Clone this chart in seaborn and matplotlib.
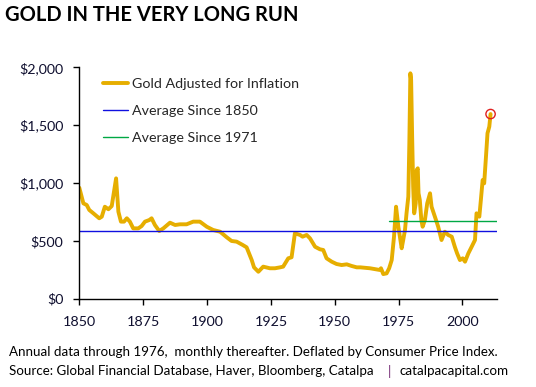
import matplotlib
matplotlib.use("Agg")
import matplotlib.pyplot as plt
import seaborn as sns
import pandas as pd

# ---- data ----
years = [1850.0, 1851.6, 1852.9, 1853.9, 1855.5, 1857.8, 1858.8, 1860.0, 1861.4, 1862.7,
         1864.4, 1865.3, 1866.3, 1867.5, 1868.6, 1869.8, 1871.1, 1873.1, 1874.4, 1875.7,
         1877.4, 1878.3, 1879.6, 1881.3, 1882.9, 1885.5, 1887.5, 1889.4, 1892.0, 1894.6,
         1897.2, 1899.9, 1902.4, 1905.1, 1907.7, 1909.6, 1911.6, 1914.0, 1915.5, 1917.5,
         1918.4, 1920.1, 1922.0, 1924.6, 1926.6, 1928.6, 1929.8, 1931.8, 1933.1, 1934.4,
         1936.4, 1937.4, 1939.0, 1940.3, 1942.3, 1944.2, 1945.5, 1946.8, 1948.8, 1950.7,
         1952.7, 1954.7, 1956.6, 1958.6, 1960.0, 1963.8, 1967.7, 1968.1, 1969.0, 1970.3,
         1971.3, 1972.3, 1973.2, 1974.0, 1974.9, 1975.5, 1976.2, 1976.8, 1977.5, 1978.1,
         1978.8, 1979.2, 1979.6, 1979.9, 1980.3, 1980.7, 1981.1, 1981.7, 1982.1, 1982.5,
         1982.8, 1983.3, 1983.9, 1984.4, 1985.3, 1986.2, 1987.3, 1987.9, 1989.2, 1990.5,
         1991.8, 1993.1, 1994.4, 1995.8, 1997.0, 1997.9, 1999.0, 2000.1, 2001.0, 2002.3,
         2003.6, 2004.9, 2005.5, 2006.6, 2007.2, 2007.9, 2008.5, 2009.2, 2009.8, 2010.5,
         2011.0]
gold_real = [959, 824, 810, 767, 738, 695, 709, 795, 773, 801,
             1040, 752, 666, 666, 695, 666, 608, 608, 628, 666,
             680, 695, 637, 585, 608, 657, 637, 643, 643, 666,
             666, 622, 594, 579, 531, 499, 493, 464, 444, 334,
             271, 233, 277, 263, 263, 271, 277, 349, 358, 565,
             551, 536, 551, 522, 449, 427, 421, 349, 320, 300,
             291, 297, 283, 271, 271, 263, 248, 263, 213, 219,
             263, 334, 536, 795, 622, 536, 436, 507, 594, 738,
             882, 1343, 1948, 1890, 1400, 968, 738, 824, 1112, 1127,
             911, 853, 680, 622, 680, 824, 911, 795, 709, 622,
             507, 579, 551, 536, 449, 392, 334, 349, 320, 392,
             449, 507, 738, 709, 853, 1026, 997, 1227, 1430, 1487,
             1596]
avg_since_1850 = 585
avg_since_1971 = 669
avg_1971_start = 1971.3
x_end = 2013.4
y_ticks = [0, 500, 1000, 1500, 2000]
y_tick_labels = ["$0", "$500", "$1,000", "$1,500", "$2,000"]
x_ticks = [1850, 1875, 1900, 1925, 1950, 1975, 2000]
series_names = ["Gold Adjusted for Inflation", "Average Since 1850", "Average Since 1971"]

df = pd.DataFrame({"year": years, "value": gold_real})
avg1850 = pd.DataFrame({"year": [years[0], x_end], "value": [avg_since_1850] * 2})
avg1971 = pd.DataFrame({"year": [avg_1971_start, x_end], "value": [avg_since_1971] * 2})

sns.set_theme(style="white")
plt.rcParams["font.family"] = ["Lato", "DejaVu Sans"]

fig = plt.figure(figsize=(5.36, 3.87), dpi=100)
ax = fig.add_axes([79.3 / 536, 1 - 298.7 / 387, (496.7 - 79.3) / 536, (298.7 - 67.3) / 387])

gold_c = "#E6AE00"
sns.lineplot(data=df, x="year", y="value", ax=ax, color=gold_c, linewidth=2.8,
             label=series_names[0], sort=False)
sns.lineplot(data=avg1850, x="year", y="value", ax=ax, color="#1010E0", linewidth=1.0,
             label=series_names[1])
sns.lineplot(data=avg1971, x="year", y="value", ax=ax, color="#00A844", linewidth=1.0,
             label=series_names[2])
# circle at the last point
sns.scatterplot(x=[years[-1]], y=[gold_real[-1]], ax=ax, s=45, facecolor="none",
                edgecolor="#E02020", linewidth=1.0, zorder=5, legend=False)

ax.set_xlim(1850, x_end)
ax.set_ylim(0, 2000)
ax.set_xticks(x_ticks)
ax.set_xticklabels([str(t) for t in x_ticks])
ax.set_yticks(y_ticks)
ax.set_yticklabels(y_tick_labels)
ax.set_xlabel("")
ax.set_ylabel("")
for s in ["top", "right"]:
    ax.spines[s].set_visible(False)
for s in ["left", "bottom"]:
    ax.spines[s].set_color("black")
    ax.spines[s].set_linewidth(1.0)
ax.tick_params(axis="both", which="major", direction="out", length=4.5, width=1.0,
               color="black", labelsize=10.3, labelcolor="#101030")
ax.tick_params(axis="x", bottom=True, pad=8)
ax.tick_params(axis="y", left=True, pad=7)

leg = ax.legend(loc="upper left", bbox_to_anchor=(0.042, 0.98), frameon=False,
                fontsize=10.3, handlelength=1.75, handletextpad=0.3, labelspacing=1.05,
                borderaxespad=0)

fig.text(5 / 536, 1 - 15 / 387, "GOLD IN THE VERY LONG RUN", fontsize=14.5,
         fontweight="bold", va="center", ha="left", color="black")
fig.text(9 / 536, 1 - 352 / 387,
         "Annual data through 1976,  monthly thereafter. Deflated by Consumer Price Index.",
         fontsize=9.6, va="center", ha="left", color="black")
fig.text(9 / 536, 1 - 371 / 387,
         "Source: Global Financial Database, Haver, Bloomberg, Catalpa",
         fontsize=9.6, va="center", ha="left", color="black")
fig.text(389 / 536, 1 - 371 / 387, "|", fontsize=9.6, va="center", ha="center",
         color="#6A1A6A")
fig.text(399 / 536, 1 - 371 / 387, "catalpacapital.com", fontsize=9.6, va="center",
         ha="left", color="black")

fig.savefig("out.png", dpi=100, facecolor="white")
